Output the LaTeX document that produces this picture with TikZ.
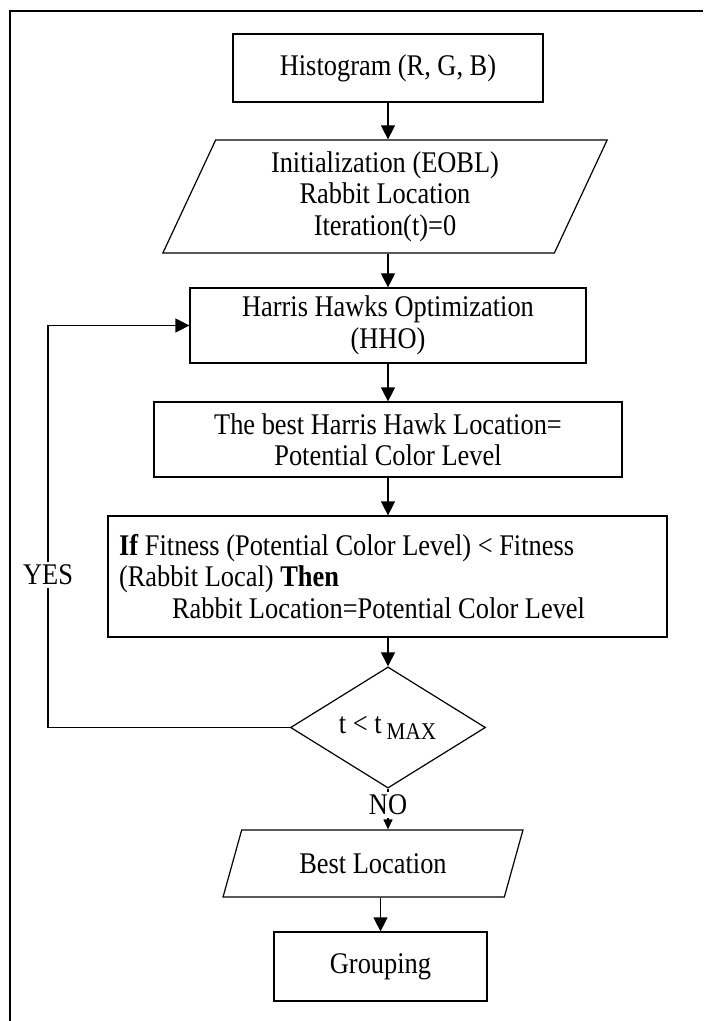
\documentclass[tikz,border=0pt]{standalone}
\usepackage{fontspec}
\usepackage{tikz}
\setmainfont[FakeStretch=0.88]{Liberation Serif}
\usetikzlibrary{shapes.geometric, arrows.meta}
\definecolor{frameline}{RGB}{0, 0, 0}
\definecolor{paper}{RGB}{255, 255, 255}

\begin{document}
\begin{tikzpicture}[x=0.5pt, y=-0.5pt,
		font=\fontsize{15pt}{15.75pt}\selectfont,
		procbox/.style={draw=frameline, line width=0.6pt, rectangle, align=center, inner sep=2pt},
		iobox/.style={draw=frameline, line width=0.6pt, trapezium, trapezium stretches=true, align=center, inner sep=1pt},
		testbox/.style={draw=frameline, line width=0.6pt, diamond, inner sep=0pt},
		flowarrow/.style={draw=frameline, line width=0.6pt, -{Triangle[length=7pt, width=7pt]}},
		tagtext/.style={fill=paper, inner sep=1.5pt}]
		
		\useasboundingbox (0,0) rectangle (703,1021);
		
		% --- RAHMEN ---
		\draw[frameline, line width=0.8pt] (10,1021) -- (10,11) -- (703,11);
		
		% --- OBERER TEIL: EINGABE ---
		\node[procbox, minimum width=155pt, minimum height=34pt] (hist) at (388,68) {Histogram (R, G, B)};
		\node[iobox, trapezium left angle=69, trapezium right angle=111, minimum width=222.5pt, minimum height=56.5pt] (init) at (385,196.5) {Initialization (EOBL)\\Rabbit Location\\Iteration(t)=0};
		
		% --- SCHLEIFE: HHO ---
		\node[procbox, minimum width=198pt, minimum height=37.5pt] (hho) at (388,325.5) {Harris Hawks Optimization\\(HHO)};
		\node[procbox, minimum width=234pt, minimum height=37.5pt] (best) at (388,439.5) {The best Harris Hawk Location=\\Potential Color Level};
		\node[procbox, minimum width=279.5pt, minimum height=60.5pt, text width=268.5pt, align=flush left, inner sep=5.5pt] (cond) at (387.5,576.5)
			{\textbf{If} Fitness (Potential Color Level) < Fitness\\(Rabbit Local) \textbf{Then}\\\hspace*{26.5pt}Rabbit Location=Potential Color Level};
		\node[testbox, minimum width=97.5pt, minimum height=52.5pt] (test) at (388,727.5) {t < t\,\textsubscript{\fontsize{12}{12}\selectfont MAX}};
		
		% --- UNTERER TEIL: AUSGABE ---
		\node[tagtext] (tagno) at (388,805) {NO};
		\node[iobox, trapezium left angle=66, trapezium right angle=114, minimum width=151pt, minimum height=33.5pt] (bestloc) at (373,863.5) {Best Location};
		\node[procbox, minimum width=106.5pt, minimum height=34.5pt] (group) at (380.5,966.5) {Grouping};
		\node[tagtext] (tagyes) at (48,575) {YES};
		
		% --- PFEILE ---
		\draw[flowarrow] (hist.south) -- (hist.south |- init.north);
		\draw[flowarrow] (hist.south |- init.south) -- (hho.north);
		\draw[flowarrow] (hho.south) -- (best.north);
		\draw[flowarrow] (best.south) -- (best.south |- cond.north);
		\draw[flowarrow] (cond.south -| test.north) -- (test.north);
		\draw[frameline, line width=0.6pt] (test.south) -- (tagno.north);
		\draw[frameline, line width=0.6pt, -{Triangle[length=5pt, width=4.5pt]}] (tagno.south) -- (tagno.south |- bestloc.north);
		\draw[flowarrow] (bestloc.south -| group.north) -- (group.north);
		\draw[frameline, line width=0.6pt] (test.west) -| (tagyes.south);
		\draw[flowarrow] (tagyes.north) |- (hho.west);
		
	\end{tikzpicture}
\end{document}
